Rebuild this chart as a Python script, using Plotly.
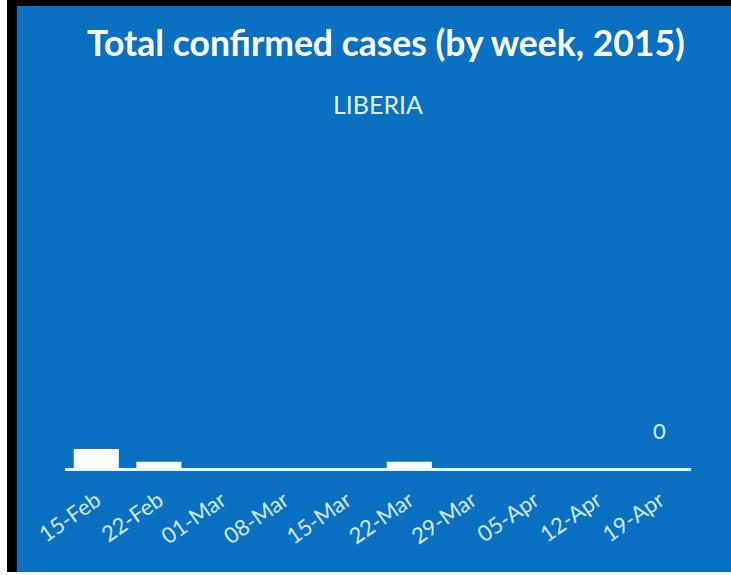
import plotly.graph_objects as go

weeks = ["15-Feb", "22-Feb", "01-Mar", "08-Mar", "15-Mar", "22-Mar", "29-Mar", "05-Apr", "12-Apr", "19-Apr"]
cases = [3, 1, 0, 0, 0, 1, 0, 0, 0, 0]
title_text = "Total confirmed cases (by week, 2015)"
country = "LIBERIA"

W, H = 731, 575
L, R, T, B = 65, 40, 150, 107
pw, ph = W - L - R, H - T - B

def px(x):
    return (x - L) / pw

def py(y):
    return (H - B - y) / ph

fig = go.Figure()
fig.add_trace(go.Bar(
    x=weeks, y=cases, marker=dict(color="white", line=dict(width=0)),
    hoverinfo="skip",
))

fig.update_layout(
    width=W, height=H,
    margin=dict(l=L, r=R, t=T, b=B),
    paper_bgcolor="white",
    plot_bgcolor="rgba(0,0,0,0)",
    bargap=0.28,
    showlegend=False,
    xaxis=dict(
        type="category", showline=True, linecolor="#F2F8FF", linewidth=3,
        showgrid=False, ticks="", tickangle=-35,
        tickfont=dict(family="Lato", size=22, color="#D2E9FB"),
        ticklabelstandoff=8,
        fixedrange=True,
    ),
    yaxis=dict(range=[0, 50], visible=False, showgrid=False, zeroline=False, fixedrange=True),
    shapes=[
        dict(type="rect", xref="paper", yref="paper", x0=px(7), x1=px(W + 5), y0=py(572), y1=py(-5),
             fillcolor="black", line=dict(width=0), layer="below"),
        dict(type="rect", xref="paper", yref="paper", x0=px(17), x1=px(W + 5), y0=py(572), y1=py(6),
             fillcolor="#0A70C2", line=dict(width=0), layer="below"),
    ],
    annotations=[
        dict(text=title_text, xref="paper", yref="paper", x=px(386), y=py(42), xanchor="center", yanchor="middle",
             showarrow=False, font=dict(family="Lato", size=35.5, color="white", weight="bold")),
        dict(text=country, xref="paper", yref="paper", x=px(378), y=py(104), xanchor="center", yanchor="middle",
             showarrow=False, font=dict(family="Lato", size=25, color="#DCEFFC")),
        dict(text=str(cases[-1]), x=weeks[-1], y=cases[-1], xref="x", yref="y", yanchor="bottom",
             yshift=22, showarrow=False, font=dict(family="Lato", size=22, color="#DCEFFC")),
    ],
)

fig.write_html("out.html")
